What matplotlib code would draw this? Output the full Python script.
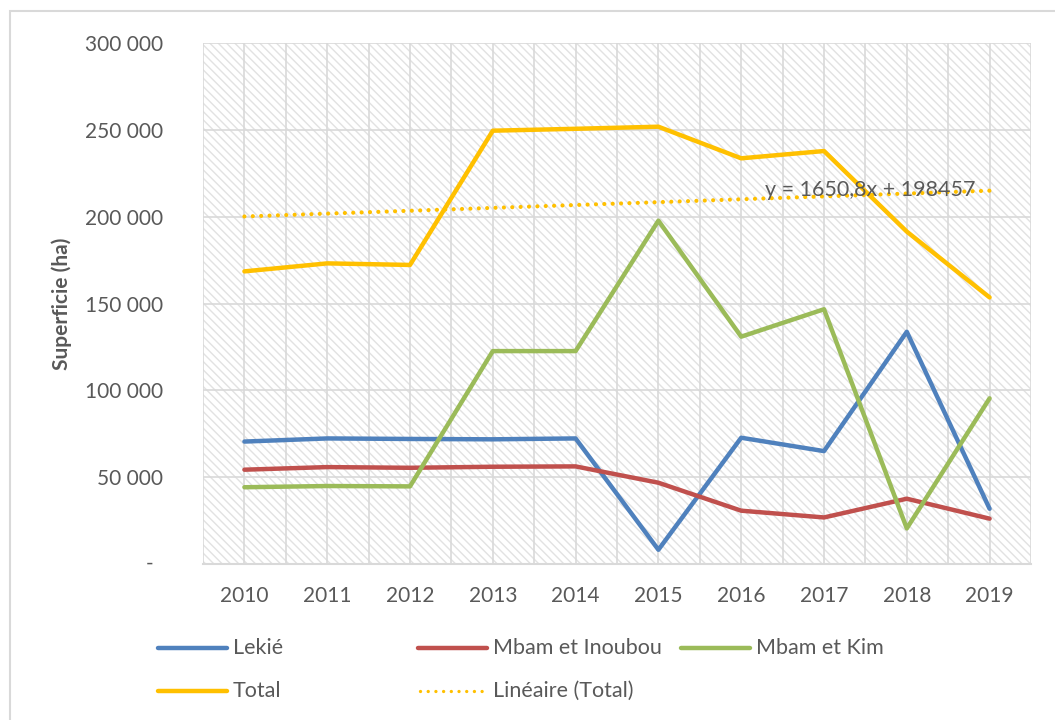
import numpy as np
import matplotlib
matplotlib.use("Agg")
import matplotlib.pyplot as plt
from matplotlib.lines import Line2D
from matplotlib.patches import Rectangle
from matplotlib.ticker import FixedLocator, FuncFormatter

# Surfaces par département (ha)
years = ["2010", "2011", "2012", "2013", "2014", "2015", "2016", "2017", "2018", "2019"]
lekie = [70500, 72300, 72000, 71800, 72300, 8200, 72700, 65000, 133700, 31800]
mbam_inoubou = [54300, 55800, 55400, 56000, 56200, 46800, 30700, 26800, 37600, 26100]
mbam_kim = [44200, 44900, 44700, 122600, 122600, 197700, 130900, 146700, 20500, 95400]
total = [168500, 173100, 172200, 249500, 250600, 251800, 233600, 237800, 191400, 153500]

# Courbe de tendance linéaire (Total)
trend_slope = 1650.8
trend_intercept = 198457
trend_label = "y = 1650,8x + 198457"

series_labels = ["Lekié", "Mbam et Inoubou", "Mbam et Kim", "Total"]
trend_name = "Linéaire (Total)"
y_label = "Superficie (ha)"
y_ticks = [0, 50000, 100000, 150000, 200000, 250000, 300000]

colors = ["#4F81BD", "#C0504D", "#9BBB59", "#FFC000"]
text_color = "#595959"
grid_color = "#D9D9D9"

plt.rcParams["font.family"] = ["Lato", "DejaVu Sans"]
plt.rcParams["hatch.linewidth"] = 1.0

W, H = 1055, 720
fig = plt.figure(figsize=(W / 100, H / 100), dpi=100)
fig.patch.set_facecolor("white")

# thin frame around the chart area
fig.add_artist(Rectangle((10 / W, -0.05), 1.2, 1 - 11 / H + 0.05,
                         transform=fig.transFigure, facecolor="none",
                         edgecolor="#D9D9D9", linewidth=1.5))

ax = fig.add_axes([203 / W, 1 - 564 / H, (1031 - 203) / W, (564 - 43) / H])
ax.set_facecolor("white")

# hatched plot area background
ax.add_patch(Rectangle((0, 0), 1, 1, transform=ax.transAxes, facecolor="white",
                       edgecolor="#E2E2E2", linewidth=0, hatch="\\\\\\\\", zorder=0))

x = np.arange(len(years))
ax.set_xlim(-0.5, len(years) - 0.5)
ax.set_ylim(0, 300000)

# grid lines: horizontal majors, vertical at every half category
ax.yaxis.set_major_locator(FixedLocator(y_ticks))
ax.xaxis.set_major_locator(FixedLocator(x))
ax.xaxis.set_minor_locator(FixedLocator(np.arange(-0.5, len(years), 1.0)))
ax.grid(True, which="major", axis="both", color=grid_color, linewidth=1.2, zorder=1)
ax.grid(True, which="minor", axis="x", color=grid_color, linewidth=1.2, zorder=1)
ax.set_axisbelow(True)

for spine in ["top", "right", "left"]:
    ax.spines[spine].set_visible(False)
ax.spines["bottom"].set_color(grid_color)
ax.spines["bottom"].set_linewidth(1.5)

ax.set_xticklabels(years)
ax.tick_params(axis="both", which="both", length=0, labelsize=15, labelcolor=text_color)
ax.tick_params(axis="x", pad=16)
ax.tick_params(axis="y", pad=28.5)


def fmt(v, pos):
    if v == 0:
        return ""
    return f"{int(v):,}".replace(",", " ")


ax.yaxis.set_major_formatter(FuncFormatter(fmt))
# accounting style zero
ax.annotate("-", xy=(0, 0), xycoords=("axes fraction", "data"),
            xytext=(-53, 0), textcoords="offset pixels",
            ha="center", va="center", fontsize=15, color=text_color)

ax.set_ylabel(y_label, fontsize=15, fontweight="bold", color=text_color)
ax.yaxis.set_label_coords(-(203 - 62) / (1031 - 203), 0.5)
ax.yaxis.label.set_va("center")

lw = 3.2
for vals, c in zip([lekie, mbam_inoubou, mbam_kim, total], colors):
    ax.plot(x, vals, color=c, linewidth=lw, solid_capstyle="round",
            solid_joinstyle="round", zorder=3)

trend = trend_intercept + trend_slope * (x + 1)
ax.plot(x, trend, color=colors[3], linewidth=3.0, linestyle=(0, (0.01, 2.0)),
        dash_capstyle="round", zorder=3)

ax.text(7.56, 215300, trend_label, fontsize=15.5, color=text_color,
        ha="center", va="center", zorder=4)

# legend drawn in figure pixels
legend_items = [
    (158, 648, colors[0], "-", series_labels[0]),
    (418, 648, colors[1], "-", series_labels[1]),
    (681, 648, colors[2], "-", series_labels[2]),
    (158, 691, colors[3], "-", series_labels[3]),
    (418, 691, colors[3], ":", trend_name),
]
for x0, y0, c, style, label in legend_items:
    yy = 1 - y0 / H
    if style == "-":
        ln = Line2D([x0 / W, (x0 + 69) / W], [yy, yy], transform=fig.transFigure,
                    color=c, linewidth=lw, solid_capstyle="round")
    else:
        ln = Line2D([(x0 + 2) / W, (x0 + 69) / W], [yy, yy], transform=fig.transFigure,
                    color=c, linewidth=2.4, linestyle=(0, (0.01, 2.3)),
                    dash_capstyle="round")
    fig.add_artist(ln)
    fig.text((x0 + 75) / W, yy, label, fontsize=15.5, color=text_color,
             ha="left", va="center")

fig.savefig("out.png", dpi=100, facecolor="white")
